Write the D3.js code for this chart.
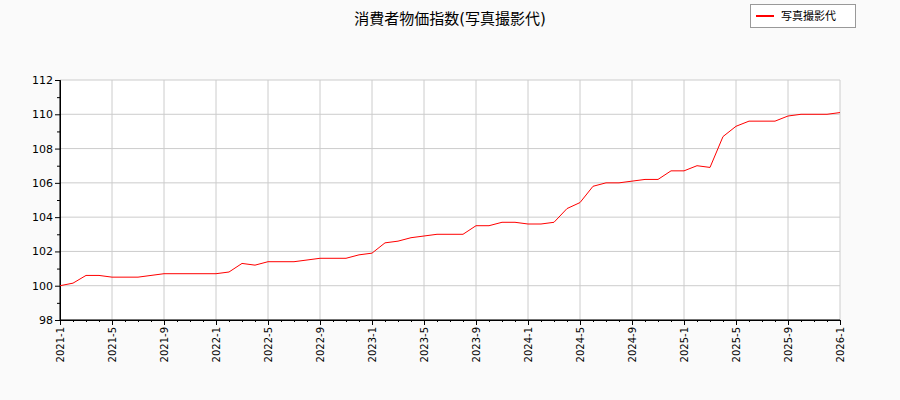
<!DOCTYPE html>
<html><head><meta charset="utf-8">
<script src="https://cdn.jsdelivr.net/npm/d3@7"></script>
<style>body{margin:0;background:#fafafa}svg{display:block}text{font-family:"DejaVu Sans","Noto Sans CJK JP",sans-serif}</style>
</head><body><svg id="c" width="900" height="400"></svg>
<script>
const startYear = 2021, startMonth = 1;
const values = [100.0,100.15,100.6,100.6,100.5,100.5,100.5,100.6,100.7,100.7,100.7,100.7,
100.7,100.8,101.3,101.2,101.4,101.4,101.4,101.5,101.6,101.6,101.6,101.8,
101.9,102.5,102.6,102.8,102.9,103.0,103.0,103.0,103.5,103.5,103.7,103.7,
103.6,103.6,103.7,104.5,104.85,105.8,106.0,106.0,106.1,106.2,106.2,106.7,
106.7,107.0,106.9,108.7,109.3,109.6,109.6,109.6,109.9,110.0,110.0,110.0,110.1];
const yTicks = [98,100,102,104,106,108,110,112];
const xTickLabels = ["2021-1","2021-5","2021-9","2022-1","2022-5","2022-9","2023-1","2023-5","2023-9","2024-1","2024-5","2024-9","2025-1","2025-5","2025-9","2026-1"];
const title = "消費者物価指数(写真撮影代)";
const seriesName = "写真撮影代";

const svg = d3.select("#c");
const L=60,R=840,T=80,B=320;
const x = d3.scaleLinear().domain([0,values.length-1]).range([L,R]);
const y = d3.scaleLinear().domain([98,112]).range([B,T]);
const idxOf = s=>{const [a,b]=s.split("-").map(Number);return (a-startYear)*12+(b-startMonth);};

svg.append("rect").attr("x",L).attr("y",T).attr("width",R-L).attr("height",B-T).attr("fill","#fff");
const g = svg.append("g");
yTicks.forEach(v=>g.append("line").attr("x1",L).attr("x2",R).attr("y1",y(v)).attr("y2",y(v)).attr("stroke","#ccc"));
xTickLabels.forEach(s=>g.append("line").attr("x1",x(idxOf(s))).attr("x2",x(idxOf(s))).attr("y1",T).attr("y2",B).attr("stroke","#ccc"));

const ya = svg.append("g").attr("transform",`translate(${L},0)`).call(d3.axisLeft(y).tickValues(d3.range(98,112.01,1)).tickSize(4).tickFormat(d=>d%2===0?d:""));
ya.select(".domain").attr("stroke","#000");
ya.selectAll(".tick line").attr("x2",d=>d%2===0?-5:-3);
ya.selectAll("text").attr("font-size",11).attr("fill","#000");
const xa = svg.append("g").attr("transform",`translate(0,${B})`).call(d3.axisBottom(x).tickValues(d3.range(0,61,1)).tickSize(3).tickFormat(d=>{const s=xTickLabels.find(t=>idxOf(t)===d);return s||"";}));
xa.selectAll(".tick line").attr("y2",d=>d%4===0?5:2);
xa.selectAll("text").attr("font-size",10).attr("fill","#000").attr("transform","rotate(-90)").attr("text-anchor","end").attr("dx","-7").attr("dy","-0.3em").attr("y",0).attr("x",0).style("dominant-baseline","middle").attr("dy","0");
svg.append("line").attr("x1",L).attr("x2",R).attr("y1",B).attr("y2",B).attr("stroke","#000");
svg.append("line").attr("x1",L).attr("x2",L).attr("y1",T).attr("y2",B).attr("stroke","#000");

svg.append("path").datum(values).attr("fill","none").attr("stroke","red").attr("stroke-width",1)
 .attr("d",d3.line().x((d,i)=>x(i)).y(d=>y(d)));

svg.append("text").attr("x",450).attr("y",24).attr("text-anchor","middle").attr("font-size",15).text(title);
svg.append("rect").attr("x",750.5).attr("y",4.5).attr("width",105).attr("height",23).attr("fill","#fff").attr("stroke","#999");
svg.append("line").attr("x1",756).attr("x2",774).attr("y1",16).attr("y2",16).attr("stroke","red").attr("stroke-width",2);
svg.append("text").attr("x",781).attr("y",20).attr("font-size",11).text(seriesName);
</script></body></html>
